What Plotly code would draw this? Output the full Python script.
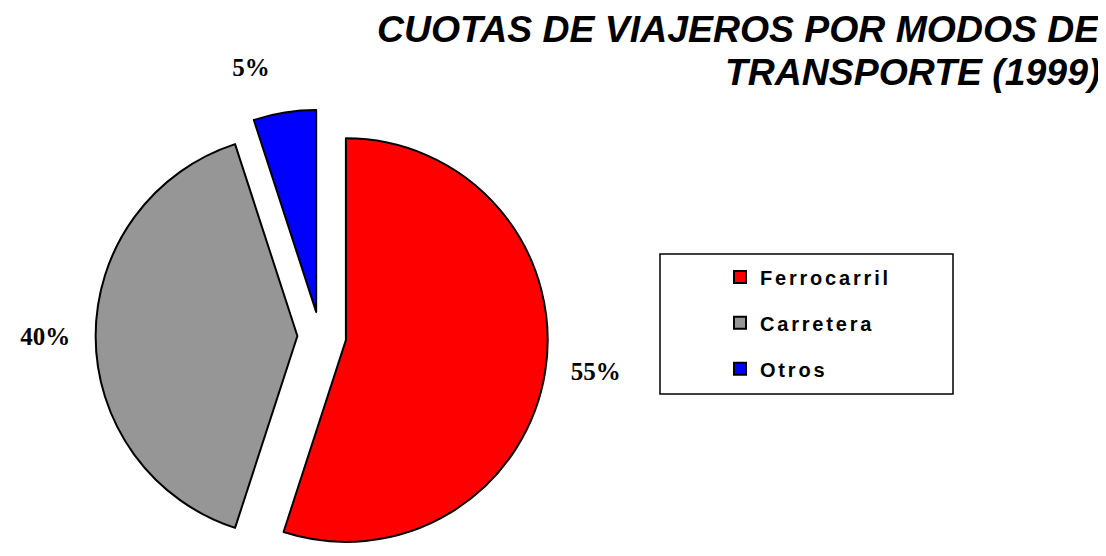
import plotly.graph_objects as go

# ---- data ----
categories = ["Ferrocarril", "Carretera", "Otros"]
shares = [55, 40, 5]
colors = ["#FF0000", "#969696", "#0000FF"]
pulls = [0.13, 0.112, 0.121]
title_lines = ["CUOTAS DE VIAJEROS POR MODOS DE", "TRANSPORTE (1999)"]

W, H = 1106, 556
NB = "\u00a0"

# legend labels rendered at 20px inside a taller legend line so entries are spaced like the original
legend_labels = [
    f"<span style='font-size:20px;letter-spacing:2.8px;baseline-shift:5px'>{c}</span>"
    for c in categories
]
# invisible padding pushes the outside percentage labels a little further from the slices
label_templates = [
    NB * 3 + "%{percent}",
    "%{percent}" + NB * 3,
    "%{percent}<br>" + NB,
]

fig = go.Figure(
    go.Pie(
        labels=legend_labels,
        values=shares,
        sort=False,
        direction="clockwise",
        rotation=0,
        pull=pulls,
        marker=dict(colors=colors, line=dict(color="black", width=2)),
        texttemplate=label_templates,
        textposition="outside",
        outsidetextfont=dict(family="Liberation Serif", size=25, color="black", weight="bold"),
        domain=dict(x=[72 / W, 552 / W], y=[0, 456 / H]),
        automargin=False,
        hoverinfo="skip",
    )
)

fig.add_shape(
    type="rect", xref="paper", yref="paper",
    x0=652 / W, x1=945 / W, y0=1 - 386 / H, y1=1 - 246 / H,
    line=dict(color="black", width=1.5), fillcolor="rgba(0,0,0,0)",
)

title_font = dict(family="Liberation Sans", size=37.4, color="black", weight="bold", style="italic")
fig.add_annotation(
    text=title_lines[0],
    xref="paper", yref="paper",
    x=1094 / W, xanchor="right",
    y=1 + 2 / H, yanchor="top",
    align="right", showarrow=False,
    font=title_font,
)
fig.add_annotation(
    text=title_lines[1],
    xref="paper", yref="paper",
    x=1094 / W, xanchor="right",
    y=1 - 41 / H, yanchor="top",
    align="right", showarrow=False,
    font=title_font,
)

fig.update_layout(
    width=W, height=H,
    margin=dict(l=0, r=0, t=0, b=0, autoexpand=False),
    paper_bgcolor="white",
    plot_bgcolor="white",
    legend=dict(
        x=712 / W, xanchor="left",
        y=1 - 241 / H, yanchor="top",
        font=dict(family="Liberation Sans", size=33, color="black", weight="bold"),
        bgcolor="rgba(0,0,0,0)",
        borderwidth=0,
    ),
    showlegend=True,
)

fig.write_html("out.html")
